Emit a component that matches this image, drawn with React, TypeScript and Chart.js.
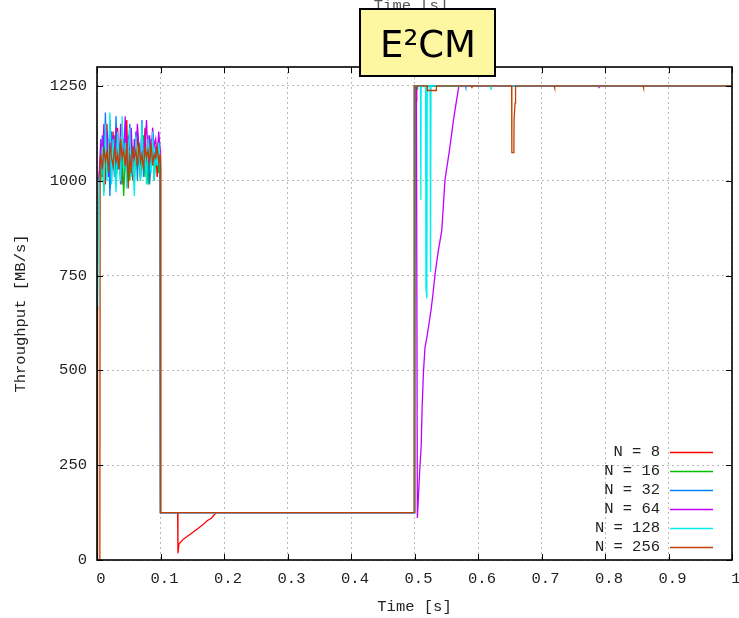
import React, { useEffect, useRef } from "react";
import { Chart, registerables } from "chart.js";

Chart.register(...registerables);

const SERIES_LABELS = ["N = 8", "N = 16", "N = 32", "N = 64", "N = 128", "N = 256"];
const SERIES_COLORS = ["#ff0000", "#00c000", "#0080ff", "#c000ff", "#00eeee", "#c04000"];

const X_TICKS = [0, 0.1, 0.2, 0.3, 0.4, 0.5, 0.6, 0.7, 0.8, 0.9, 1];
const X_TICK_LABELS = ["0", "0.1", "0.2", "0.3", "0.4", "0.5", "0.6", "0.7", "0.8", "0.9", "1"];
const Y_TICKS = [0, 250, 500, 750, 1000, 1250];
const Y_TICK_LABELS = ["0", "250", "500", "750", "1000", "1250"];

const TITLE = "E²CM";
const X_TITLE = "Time [s]";
const Y_TITLE = "Throughput [MB/s]";

// time stamps of the noisy start phase (s)
const NOISE_T = [
  0.006, 0.0084, 0.0108, 0.0132, 0.0156, 0.018, 0.0204, 0.0228, 0.0252, 0.0276,
  0.03, 0.0324, 0.0348, 0.0372, 0.0396, 0.042, 0.0444, 0.0468, 0.0492, 0.0516,
  0.054, 0.0564, 0.0588, 0.0612, 0.0636, 0.066, 0.0684, 0.0708, 0.0732, 0.0756,
  0.078, 0.0804, 0.0828, 0.0852, 0.0876, 0.09, 0.0924, 0.0948, 0.0972, 0.0996,
];

const N8_NOISE = [1080, 1010, 1120, 990, 1150, 1040, 1100, 1000, 1130, 1060, 1020, 1140, 1050, 1090, 990, 1110, 1030, 1160, 1010, 1070, 1120, 1000, 1090, 1040, 1130, 1060, 1010, 1100, 1050, 1140, 1020, 1080, 1000, 1110, 1060, 1030, 1090, 1010, 1070, 1040];
const N16_NOISE = [1000, 1060, 970, 1090, 1020, 1110, 980, 1070, 1030, 1120, 990, 1050, 1100, 1000, 1080, 960, 1060, 1020, 1110, 1000, 1070, 1040, 990, 1100, 1030, 1080, 1000, 1060, 1120, 1010, 1070, 990, 1090, 1040, 1110, 1000, 1050, 1080, 1020, 1060];
const N32_NOISE = [1050, 1120, 1000, 1180, 1040, 1090, 960, 1130, 1060, 1010, 1170, 1030, 1080, 990, 1140, 1050, 1110, 1000, 1070, 1150, 1020, 1090, 1060, 1130, 1000, 1100, 1040, 1160, 1010, 1080, 1050, 1120, 990, 1070, 1100, 1030, 1090, 1040, 1110, 1060];
const N64_NOISE = [1110, 1040, 1150, 1070, 1130, 1010, 1160, 1080, 1120, 1050, 1140, 1090, 1030, 1150, 1100, 1060, 1170, 1040, 1120, 1080, 1140, 1020, 1110, 1070, 1150, 1090, 1040, 1130, 1080, 1100, 1160, 1050, 1120, 1070, 1140, 1090, 1110, 1060, 1130, 1080];
const N128_NOISE = [1020, 1090, 960, 1150, 1000, 1070, 1180, 990, 1110, 1040, 970, 1130, 1060, 1000, 1170, 1030, 1100, 980, 1080, 1140, 1010, 1060, 960, 1120, 1050, 1090, 1000, 1150, 1030, 1080, 990, 1110, 1060, 1020, 1130, 1000, 1070, 1040, 1100, 1050];
const N256_NOISE = [1070, 1030, 1090, 1050, 1080, 1020, 1100, 1060, 1040, 1090, 1050, 1070, 1030, 1110, 1060, 1080, 1040, 1100, 980, 1070, 1020, 1090, 1060, 1080, 1040, 1100, 1050, 1070, 1030, 1090, 1060, 1080, 1050, 1100, 1040, 1070, 1060, 1090, 1050, 1070];

// [time, throughput] before and after the noisy phase
const N8_HEAD = [[0.003, 1000]];
const N8_TAIL = [[0.1, 125], [0.127, 125], [0.1275, 18], [0.129, 42], [0.136, 55], [0.142, 62], [0.15, 72], [0.158, 82], [0.166, 92], [0.174, 104], [0.18, 110], [0.184, 118], [0.188, 125], [0.4995, 125], [0.5, 680], [0.5005, 540], [0.501, 1250], [0.503, 1210], [0.5035, 1250], [1, 1250]];
const N16_HEAD = [[0.003, 1000]];
const N16_TAIL = [[0.1, 125], [0.4995, 125], [0.5, 440], [0.5005, 360], [0.501, 1250], [0.504, 1250], [0.5045, 1240], [0.505, 1250], [1, 1250]];
const N32_HEAD = [[0.003, 1000]];
const N32_TAIL = [[0.1, 125], [0.4995, 125], [0.5, 360], [0.5003, 200], [0.5008, 1250], [0.58, 1250], [0.5805, 1246], [0.581, 1250], [1, 1250]];
const N64_HEAD = [[0.003, 1000]];
const N64_TAIL = [[0.1, 125], [0.4995, 125], [0.5, 1250], [0.503, 1250], [0.5045, 111], [0.506, 160], [0.508, 230], [0.5105, 300], [0.512, 400], [0.514, 493], [0.5165, 560], [0.5195, 588], [0.523, 625], [0.526, 659], [0.529, 700], [0.5326, 757], [0.537, 810], [0.543, 870], [0.548, 1002], [0.555, 1080], [0.5614, 1160], [0.566, 1210], [0.57, 1250], [0.79, 1250], [0.7905, 1244], [0.791, 1250], [1, 1250]];
const N128_HEAD = [[0, 700], [0.001, 660], [0.003, 1000]];
const N128_TAIL = [[0.1, 125], [0.4995, 125], [0.5, 1250], [0.5095, 1250], [0.51, 950], [0.5105, 1250], [0.5175, 1250], [0.518, 720], [0.5195, 690], [0.52, 1250], [0.5245, 1250], [0.525, 800], [0.5255, 760], [0.526, 1250], [0.62, 1250], [0.6205, 1242], [0.621, 1250], [1, 1250]];
const N256_HEAD = [[0, 590], [0.0004, 670], [0.0008, 600], [0.0015, 0], [0.0045, 0], [0.005, 1050]];
const N256_TAIL = [[0.1, 125], [0.4995, 125], [0.4995, 1250], [0.52, 1250], [0.5205, 1238], [0.534, 1238], [0.5345, 1250], [0.59, 1250], [0.5905, 1244], [0.591, 1250], [0.653, 1250], [0.6533, 1074], [0.6565, 1074], [0.6568, 1160], [0.658, 1160], [0.6583, 1205], [0.659, 1205], [0.6593, 1250], [0.72, 1250], [0.7205, 1245], [0.721, 1250], [0.86, 1250], [0.8605, 1245], [0.861, 1250], [1, 1250]];

const HEADS = [N8_HEAD, N16_HEAD, N32_HEAD, N64_HEAD, N128_HEAD, N256_HEAD];
const NOISES = [N8_NOISE, N16_NOISE, N32_NOISE, N64_NOISE, N128_NOISE, N256_NOISE];
const TAILS = [N8_TAIL, N16_TAIL, N32_TAIL, N64_TAIL, N128_TAIL, N256_TAIL];

const FONT = "'Liberation Mono', 'DejaVu Sans Mono', monospace";
const FONT_SIZE = 15.5;

const framePlugin = {
  id: "frame",
  afterDatasetsDraw(chart: any) {
    const { ctx, chartArea: a, scales } = chart;
    const x = scales.x;
    const y = scales.y;
    ctx.save();
    ctx.strokeStyle = "#000";
    ctx.lineWidth = 1;
    const line = (x1: number, y1: number, x2: number, y2: number) => {
      ctx.beginPath();
      ctx.moveTo(x1, y1);
      ctx.lineTo(x2, y2);
      ctx.stroke();
    };
    for (const v of X_TICKS) {
      const px = Math.round(x.getPixelForValue(v)) + 0.5;
      line(px, a.bottom, px, a.bottom - 6);
      line(px, a.top, px, a.top + 6);
    }
    for (const v of Y_TICKS) {
      const py = Math.round(y.getPixelForValue(v)) + 0.5;
      line(a.left, py, a.left + 6, py);
      line(a.right, py, a.right - 6, py);
    }
    ctx.lineWidth = 1.6;
    ctx.strokeRect(a.left, a.top, a.right - a.left, a.bottom - a.top);
    ctx.restore();
  },
  afterDraw(chart: any) {
    const { ctx } = chart;
    ctx.save();
    // legend
    ctx.font = `${FONT_SIZE}px ${FONT}`;
    ctx.fillStyle = "#222";
    ctx.textAlign = "right";
    ctx.textBaseline = "middle";
    SERIES_LABELS.forEach((lab, i) => {
      const yy = 452 + i * 18.9;
      ctx.fillText(lab, 660, yy);
      ctx.strokeStyle = SERIES_COLORS[i];
      ctx.lineWidth = 1.3;
      ctx.beginPath();
      ctx.moveTo(670, Math.round(yy) + 0.5);
      ctx.lineTo(713, Math.round(yy) + 0.5);
      ctx.stroke();
    });
    // ghost axis title at top
    ctx.fillStyle = "#555";
    ctx.textAlign = "center";
    ctx.textBaseline = "alphabetic";
    ctx.fillText(X_TITLE, 411, 10);
    // title box
    ctx.fillStyle = "#fdf7a2";
    ctx.fillRect(360, 9, 135, 67);
    ctx.strokeStyle = "#000";
    ctx.lineWidth = 2;
    ctx.strokeRect(360, 9, 135, 67);
    ctx.fillStyle = "#000";
    ctx.font = "37px 'DejaVu Sans', sans-serif";
    ctx.textAlign = "center";
    ctx.fillText(TITLE, 428, 57);
    ctx.restore();
  },
};

export default function App() {
  const ref = useRef<HTMLCanvasElement | null>(null);
  useEffect(() => {
    if (!ref.current) return;
    const datasets = SERIES_LABELS.map((label, i) => ({
      label,
      data: [
        ...HEADS[i].map(([t, v]) => ({ x: t, y: v })),
        ...NOISE_T.map((t, k) => ({ x: t, y: NOISES[i][k] })),
        ...TAILS[i].map(([t, v]) => ({ x: t, y: v })),
      ],
      borderColor: SERIES_COLORS[i],
      backgroundColor: SERIES_COLORS[i],
      borderWidth: 1.3,
      pointRadius: 0,
      tension: 0,
      fill: false,
      order: SERIES_LABELS.length - i,
    }));
    const chart = new Chart(ref.current, {
      type: "line",
      data: { datasets },
      plugins: [framePlugin],
      options: {
        animation: false,
        responsive: false,
        parsing: false as any,
        layout: { padding: { top: 67, right: 7, left: 0, bottom: 0 } },
        plugins: { legend: { display: false }, tooltip: { enabled: false }, title: { display: false } },
        scales: {
          x: {
            type: "linear",
            min: 0,
            max: 1,
            afterBuildTicks: (s: any) => {
              s.ticks = X_TICKS.map((v) => ({ value: v }));
            },
            afterFit: (s: any) => {
              s.height = 58;
              s.paddingLeft = 0;
              s.paddingRight = 0;
            },
            ticks: {
              font: { family: FONT, size: FONT_SIZE },
              color: "#222",
              padding: 10,
              labelOffset: 4,
              maxRotation: 0,
              autoSkip: false,
              callback: (v: any) => X_TICK_LABELS[X_TICKS.findIndex((t) => Math.abs(t - v) < 1e-9)] ?? "",
            },
            grid: { color: "#b8b8b8", lineWidth: 1, drawTicks: false },
            border: { display: false, dash: [2, 3] },
            title: { display: true, text: X_TITLE, font: { family: FONT, size: FONT_SIZE }, color: "#222", padding: { top: 0, bottom: 2 } },
          },
          y: {
            type: "linear",
            min: 0,
            max: 1300,
            afterBuildTicks: (s: any) => {
              s.ticks = Y_TICKS.map((v) => ({ value: v }));
            },
            afterFit: (s: any) => {
              s.width = 97;
              s.paddingTop = 0;
              s.paddingBottom = 0;
            },
            ticks: {
              font: { family: FONT, size: FONT_SIZE },
              color: "#222",
              padding: 10,
              callback: (v: any) => Y_TICK_LABELS[Y_TICKS.indexOf(v)] ?? "",
            },
            grid: { color: "#b8b8b8", lineWidth: 1, drawTicks: false },
            border: { display: false, dash: [2, 3] },
            title: { display: true, text: Y_TITLE, font: { family: FONT, size: FONT_SIZE }, color: "#222", padding: { top: 12, bottom: 0 } },
          },
        },
      },
    });
    return () => chart.destroy();
  }, []);
  return (
    <div style={{ position: "absolute", left: 0, top: 0, width: 739, height: 618, background: "#fff" }}>
      <canvas ref={ref} width={739} height={618} style={{ display: "block" }} />
    </div>
  );
}
